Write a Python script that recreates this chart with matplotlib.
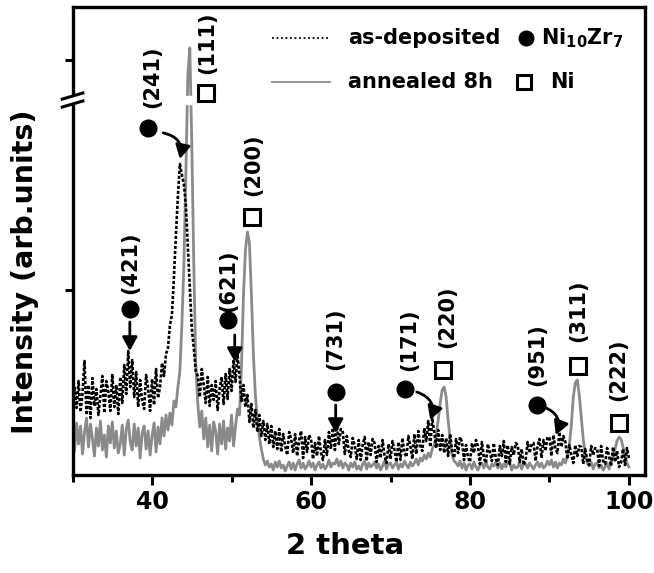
import numpy as np
import matplotlib
matplotlib.use('Agg')
import matplotlib.pyplot as plt

# scan grid, 2 theta (deg), 0.25 deg step
two_theta = np.arange(30.0, 100.01, 0.25)

# as-deposited film, intensity (arb. units), one row per degree
as_deposited = [
    58, 88, 67, 94,      # 30
    63, 82, 114, 60,     # 31
    90, 57, 97, 69,      # 32
    86, 60, 80, 99,      # 33
    62, 94, 83, 64,      # 34
    101, 68, 90, 61,     # 35
    98, 72, 110, 81,     # 36
    124, 88, 115, 78,    # 37
    103, 68, 95, 74,     # 38
    66, 100, 87, 64,     # 39
    96, 70, 106, 77,     # 40
    88, 112, 99, 121,    # 41
    127, 150, 160, 198,  # 42
    240, 279, 311, 300,  # 43
    291, 270, 229, 190,  # 44
    146, 127, 104, 99,   # 45
    78, 106, 90, 72,     # 46
    98, 69, 90, 75,      # 47
    94, 65, 86, 98,      # 48
    71, 101, 76, 106,    # 49
    84, 115, 93, 121,    # 50
    99, 74, 90, 68,      # 51
    80, 53, 71, 47,      # 52
    65, 43, 60, 39,      # 53
    54, 35, 51, 31,      # 54
    49, 28, 44, 26,      # 55
    46, 23, 41, 29,      # 56
    20, 43, 36, 22,      # 57
    41, 19, 35, 44,      # 58
    17, 38, 23, 40,      # 59
    36, 16, 32, 19,      # 60
    39, 22, 15, 35,      # 61
    20, 43, 26, 47,      # 62
    25, 51, 31, 46,      # 63
    43, 21, 39, 24,      # 64
    18, 37, 29, 16,      # 65
    35, 15, 30, 38,      # 66
    14, 33, 20, 36,      # 67
    32, 13, 29, 17,      # 68
    35, 19, 12, 31,      # 69
    16, 34, 25, 13,      # 70
    33, 15, 37, 22,      # 71
    18, 39, 29, 16,      # 72
    41, 21, 44, 29,      # 73
    24, 47, 34, 54,      # 74
    28, 57, 43, 27,      # 75
    45, 25, 40, 22,      # 76
    37, 19, 41, 24,      # 77
    17, 36, 22, 38,      # 78
    33, 15, 30, 18,      # 79
    13, 32, 22, 35,      # 80
    29, 11, 33, 17,      # 81
    12, 31, 23, 14,      # 82
    32, 16, 10, 29,      # 83
    19, 34, 13, 30,      # 84
    11, 28, 20, 32,      # 85
    30, 13, 26, 10,      # 86
    15, 33, 22, 31,      # 87
    32, 14, 29, 36,      # 88
    17, 35, 24, 38,      # 89
    37, 19, 40, 26,      # 90
    22, 43, 28, 39,      # 91
    33, 16, 30, 20,      # 92
    12, 30, 19, 29,      # 93
    28, 11, 26, 15,      # 94
    10, 29, 20, 27,      # 95
    26, 9, 29, 14,       # 96
    11, 27, 19, 9,       # 97
    28, 13, 24, 8,       # 98
    12, 26, 10, 27,      # 99
    17,                  # 100
]

# annealed 8h
annealed_8h = [
    46, 24, 52, 31,      # 30
    49, 21, 43, 57,      # 31
    28, 51, 36, 19,      # 32
    47, 29, 54, 25,      # 33
    40, 18, 49, 32,      # 34
    53, 27, 44, 22,      # 35
    31, 50, 20, 46,      # 36
    55, 33, 25, 51,      # 37
    29, 47, 17, 42,      # 38
    49, 26, 44, 20,      # 39
    39, 52, 23, 48,      # 40
    31, 57, 39, 60,      # 41
    45, 62, 50, 74,      # 42
    68, 88, 104, 150,    # 43
    210, 300, 400, 427,  # 44
    330, 210, 110, 72,   # 45
    48, 64, 36, 57,      # 46
    28, 50, 24, 53,      # 47
    44, 21, 51, 31,      # 48
    54, 26, 47, 34,      # 49
    60, 29, 49, 66,      # 50
    60, 110, 180, 225,   # 51
    243, 232, 180, 120,  # 52
    80, 55, 38, 26,      # 53
    16, 10, 14, 8,       # 54
    11, 5, 13, 8,        # 55
    14, 7, 10, 4,        # 56
    9, 13, 6, 12,        # 57
    5, 11, 15, 7,        # 58
    12, 6, 9, 14,        # 59
    8, 12, 5, 10,        # 60
    13, 7, 11, 6,        # 61
    9, 15, 8, 12,        # 62
    11, 16, 9, 14,       # 63
    7, 12, 10, 5,        # 64
    12, 8, 13, 6,        # 65
    9, 5, 11, 14,        # 66
    6, 12, 8, 10,        # 67
    13, 7, 11, 5,        # 68
    9, 14, 6, 11,        # 69
    12, 7, 10, 13,       # 70
    6, 11, 8, 14,        # 71
    10, 7, 13, 9,        # 72
    12, 16, 10, 17,      # 73
    14, 20, 16, 22,      # 74
    18, 26, 30, 40,      # 75
    55, 72, 85, 88,      # 76
    78, 55, 35, 20,      # 77
    14, 12, 9, 14,       # 78
    7, 12, 5, 10,        # 79
    11, 6, 13, 8,        # 80
    5, 10, 12, 7,        # 81
    13, 8, 6, 11,        # 82
    9, 13, 7, 12,        # 83
    6, 11, 8, 14,        # 84
    12, 5, 10, 7,        # 85
    8, 13, 6, 11,        # 86
    11, 7, 12, 9,        # 87
    6, 10, 13, 8,        # 88
    12, 7, 9, 14,        # 89
    10, 15, 8, 13,       # 90
    7, 12, 10, 16,       # 91
    12, 18, 30, 50,      # 92
    78, 92, 95, 80,      # 93
    58, 36, 20, 12,      # 94
    9, 13, 6, 11,        # 95
    12, 7, 10, 5,        # 96
    8, 12, 6, 13,        # 97
    18, 26, 34, 38,      # 98
    36, 28, 20, 12,      # 99
    8,                   # 100
]

# reflections of each phase
ni10zr7_labels = ['(421)', '(241)', '(621)', '(731)', '(171)', '(951)']
ni_labels = ['(111)', '(200)', '(220)', '(311)', '(222)']

plt.rcParams['font.family'] = ['DejaVu Sans']
plt.rcParams['font.weight'] = 'bold'
plt.rcParams['mathtext.default'] = 'bf'

fig = plt.figure(figsize=(6.54, 5.73), dpi=100)
ax = fig.add_axes([0.111, 0.171, 0.875, 0.817])

gray = '#8a8a8a'
ax.plot(two_theta, annealed_8h, color=gray, lw=2.0, zorder=2)
ax.plot(two_theta, as_deposited, color='black', lw=1.9, ls=(0, (1.2, 0.7)), zorder=3)

ax.set_xlim(30, 102)
ax.set_ylim(0, 468)

# y axis is broken near the top; leave a gap in the tall Ni(111) line too
brk = 0.801
ax.axhspan(brk * 468 - 4, brk * 468 + 4, xmin=0.195, xmax=0.215, color='white', zorder=4)

for sp in ax.spines.values():
    sp.set_linewidth(2.4)
ax.set_xticks([40, 60, 80, 100])
ax.set_xticks([30, 50, 70, 90], minor=True)
ax.set_yticks([185, 415])
ax.set_yticklabels([])
ax.tick_params(axis='both', which='both', direction='out', width=2.2)
ax.tick_params(axis='x', which='major', length=7, labelsize=17, pad=4)
ax.tick_params(axis='x', which='minor', length=5)
ax.tick_params(axis='y', length=6)
for lab in ax.get_xticklabels():
    lab.set_fontweight('bold')

ax.set_xlabel('2 theta', fontsize=21, fontweight='bold')
ax.xaxis.set_label_coords(0.476, -0.122)
ax.set_ylabel('Intensity (arb.units)', fontsize=20.5, fontweight='bold')
ax.yaxis.set_label_coords(-0.058, 0.434)

# axis break marks
dx, dy, gap = 0.018, 0.0065, 0.0085
ax.fill([-dx, dx, dx, -dx],
        [brk - gap - dy, brk - gap + dy, brk + gap + dy, brk + gap - dy],
        color='white', transform=ax.transAxes, clip_on=False, zorder=10)
for s in (-gap, gap):
    ax.plot([-dx, dx], [brk + s - dy, brk + s + dy], color='black', lw=2.2,
            transform=ax.transAxes, clip_on=False, zorder=11)

# peak markers and labels
circ = dict(marker='o', ms=12, color='black', ls='none', zorder=6)
sq = dict(marker='s', ms=11, mfc='white', mec='black', mew=2.2, ls='none', zorder=6)
txt = dict(rotation=90, ha='center', va='center', fontsize=15, fontweight='bold', zorder=6)
arrow = dict(arrowstyle='-|>,head_length=0.55,head_width=0.3', color='black', lw=2,
             mutation_scale=15, shrinkA=0, shrinkB=0)

ni10zr7_pos = [(37.2, 166, 37.2, 212), (39.5, 347, 40.0, 398), (49.5, 155, 49.6, 194),
               (63.1, 83, 63.1, 136), (71.8, 86, 72.4, 135), (88.4, 70, 88.5, 120)]
for lab, (mx, my, tx, ty) in zip(ni10zr7_labels, ni10zr7_pos):
    ax.plot(mx, my, **circ)
    ax.text(tx, ty, lab, **txt)

ni_pos = [(46.8, 382, 47.0, 432), (52.6, 258, 52.7, 310), (76.6, 105, 77.1, 158),
          (93.6, 109, 93.6, 164), (98.8, 52, 98.6, 105)]
for lab, (mx, my, tx, ty) in zip(ni_labels, ni_pos):
    ax.plot(mx, my, **sq)
    ax.text(tx, ty, lab, **txt)

# straight arrows
for x0, y0, y1 in [(37.2, 153, 124), (50.4, 140, 113), (63.1, 70, 42)]:
    ax.annotate('', xy=(x0, y1), xytext=(x0, y0), arrowprops=arrow, zorder=6)
# curved arrows
for x0, y0, x1, y1 in [(41.4, 342, 43.5, 316), (73.3, 83, 75.0, 55), (89.3, 68, 90.8, 40)]:
    ax.annotate('', xy=(x1, y1), xytext=(x0, y0),
                arrowprops=dict(arrow, connectionstyle='arc3,rad=-0.5'), zorder=6)

# legend drawn by hand
tr = ax.transAxes
ax.plot([0.348, 0.449], [0.934, 0.934], color='black', lw=1.3, ls=(0, (1, 1.5)), transform=tr)
ax.text(0.481, 0.934, 'as-deposited', transform=tr, fontsize=15, va='center', ha='left')
ax.plot(0.792, 0.934, marker='o', ms=10.5, color='black', transform=tr)
ax.text(0.818, 0.934, r'Ni$_{10}$Zr$_{7}$', transform=tr, fontsize=15, va='center', ha='left')
ax.plot([0.348, 0.449], [0.840, 0.840], color=gray, lw=1.3, transform=tr)
ax.text(0.481, 0.840, 'annealed 8h', transform=tr, fontsize=15, va='center', ha='left')
ax.plot(0.788, 0.840, marker='s', ms=10, mfc='white', mec='black', mew=2.2, transform=tr)
ax.text(0.834, 0.840, 'Ni', transform=tr, fontsize=15, va='center', ha='left')

fig.savefig('out.png', dpi=100)
